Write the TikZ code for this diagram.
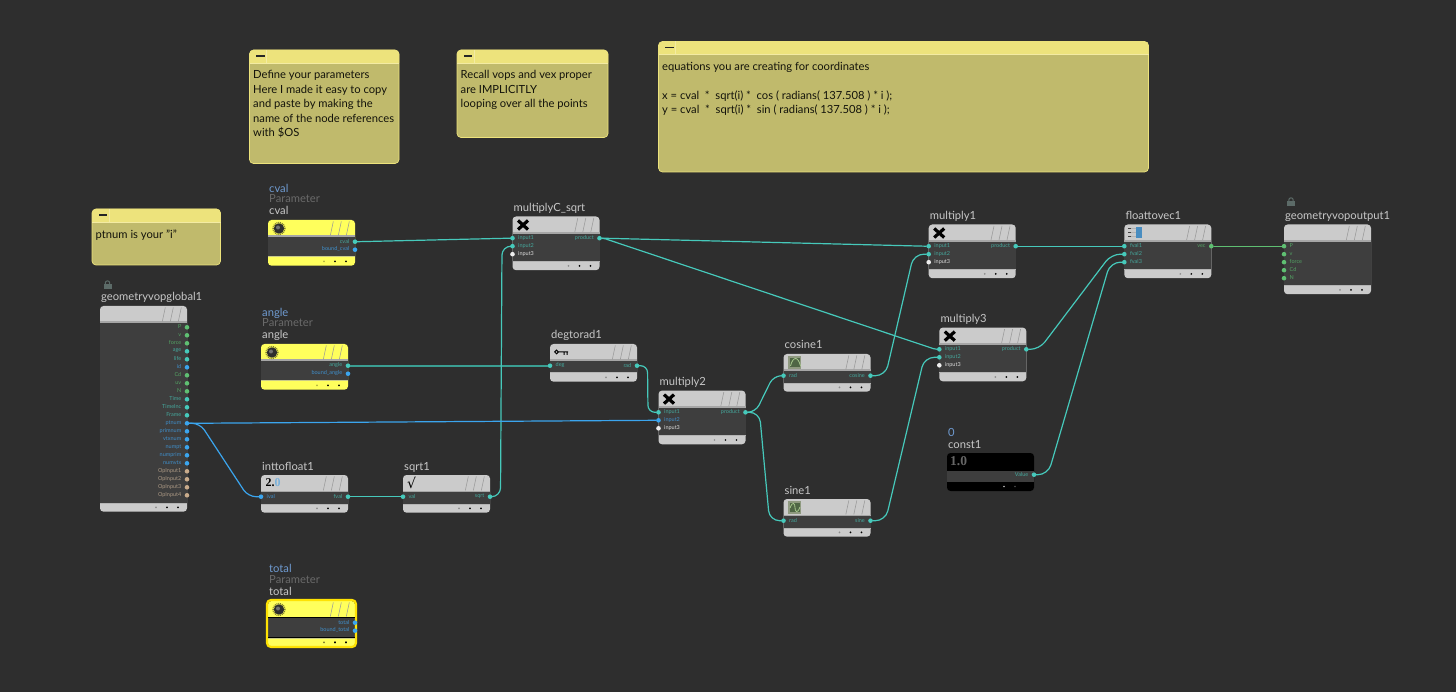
\documentclass[tikz,border=0pt]{standalone}
\usepackage{fontspec}
\setmainfont{Lato}
\newfontfamily\serfont{Liberation Serif}
\newfontfamily\symfont{DejaVu Sans}
\usetikzlibrary{calc}
\definecolor{bgc}{HTML}{2E2E2E}
\definecolor{bodyc}{HTML}{3E3E3E}
\definecolor{greyc}{HTML}{CBCBCB}
\definecolor{sepc}{HTML}{A6A6A6}
\definecolor{yelc}{HTML}{FFFF5C}
\definecolor{portt}{HTML}{46C9BB}
\definecolor{portb}{HTML}{3BA5EE}
\definecolor{portg}{HTML}{5FBF72}
\definecolor{portn}{HTML}{C9AB8B}
\definecolor{portw}{HTML}{EEEEEE}
\definecolor{labt}{HTML}{45A79C}
\definecolor{labb}{HTML}{3F8FCB}
\definecolor{labg}{HTML}{53A263}
\definecolor{labn}{HTML}{AD9A85}
\definecolor{labw}{HTML}{DDDDDD}
\definecolor{noteb}{HTML}{C0BA6C}
\definecolor{noteh}{HTML}{EDE37C}
\definecolor{titlec}{HTML}{C8C8C8}
\definecolor{paramc}{HTML}{6A6A6A}
\definecolor{valc}{HTML}{6F9BD1}
\definecolor{lockc}{HTML}{5C6B68}
\definecolor{anglewire}{HTML}{3A9E92}
\definecolor{iconb}{HTML}{8F9A80}
\definecolor{iconf}{HTML}{4F6645}
\definecolor{iconl}{HTML}{A8C88E}
\tikzset{
  x=1pt,y=-1pt,
  shell/.style={rounded corners=3.5pt,minimum width=87pt,inner sep=0pt,outer sep=0pt,anchor=north west},
  dot/.style={circle,inner sep=0pt,outer sep=0pt,minimum size=4.6pt},
  titlelab/.style={anchor=base west,inner sep=0pt,text=titlec,font=\fontsize{11.2}{13}\selectfont},
  portlab/.style={inner sep=0pt,font=\fontsize{5.5}{6}\selectfont},
  wire/.style={line width=1.2pt,portt,line cap=round},
  notebox/.style={rounded corners=4pt,fill=noteb,draw=noteh,line width=.7pt,inner sep=0pt,outer sep=0pt,anchor=north west},
  notetext/.style={anchor=north west,inner sep=0pt,align=left,text=black!90!noteb,font=\fontsize{11.2}{14.5}\selectfont},
}
% id, x, top, rows, head colour, title
\newcommand\vop[6]{%
  \pgfmathsetmacro\vh{21.7+8*(#4-1)+16}%
  \node[shell,fill=#5,minimum height=\vh pt] (#1) at (#2,#3) {};
  \fill[bodyc] (#2,{#3+16.5}) rectangle ({#2+87},{#3+\vh-8.7});
  \fill[sepc] (#2,{#3+15.5}) rectangle ({#2+87},{#3+17.2});
  \fill[sepc!60!#5] (#2,{#3+\vh-9.2}) rectangle ({#2+87},{#3+\vh-8.4});
  \foreach \s in {0,8,16}
    \draw[black!40,line width=.55pt] ({#2+62.3+\s},{#3+15.5}) -- ({#2+65.3+\s},{#3+1.5});
  \foreach \s/\k in {56/.3,67/1,78/1}
    \fill[black,opacity=\k] ({#2+\s},{#3+\vh-4.3}) circle (.95pt);
  \node[titlelab] (#1-t) at ({#2+1},{#3-5}) {#6};
}
% box id, x, top, row, label, colour letter
\newcommand\lport[6]{%
  \node[dot,fill=port#6] (#1-l#4) at (#2,{#3+21.7+8*#4}) {};
  \node[portlab,anchor=west,text=lab#6] at ({#2+5.5},{#3+21.3+8*#4}) {#5};
}
\newcommand\rport[6]{%
  \node[dot,fill=port#6] (#1-r#4) at ({#2+87},{#3+21.7+8*#4}) {};
  \node[portlab,anchor=east,text=lab#6] at ({#2+81.5},{#3+21.3+8*#4}) {#5};
}
\newcommand\cross[2]{%
  \draw[black,line width=3.2pt] ({#1+5.5},{#2+4}) -- ({#1+15.5},{#2+13});
  \draw[black,line width=3.2pt] ({#1+15.5},{#2+4}) -- ({#1+5.5},{#2+13});
}
\newcommand\knob[2]{%
  \draw[black!50!yelc,line width=1.4pt,dash pattern=on .9pt off .9pt] ({#1+11},{#2+8.5}) circle (5.9pt);
  \fill[black!82] ({#1+11},{#2+8.5}) circle (5.2pt);
  \fill[black!55] ({#1+10},{#2+7.5}) circle (2pt);
}
\newcommand\lockicon[2]{%
  \fill[lockc] ({#1},{#2+3.5}) rectangle ({#1+8},{#2+8.5});
  \draw[lockc,line width=1pt] ({#1+1.8},{#2+3.5}) -- ({#1+1.8},{#2+2}) arc[start angle=180,end angle=0,radius=2.2pt] -- ({#1+6.2},{#2+3.5});
}
% [style] from, to, dx, radius
\newcommand\wire[5][]{%
  \draw[wire,#1,rounded corners=#5pt] (#2) -- ($(#2)+(#4,0)$) -- ($(#3)-(#4,0)$) -- (#3);
}
% id x y x2 y2 text
\newcommand\stick[6]{%
  \node[notebox,minimum width={#4-#2},minimum height={#5-#3}] (#1) at (#2,#3) {};
  \fill[noteh] (#2,{#3+13}) [rounded corners=4pt] -- (#2,#3) -- (#4,#3) [sharp corners] -- (#4,{#3+13}) -- cycle;
  \fill[black!85] ({#2+6.5},{#3+5.2}) rectangle ({#2+15},{#3+6.9});
  \draw[noteh!70!white,line width=.7pt] ({#2+17},#3) -- ({#2+17},{#3+13});
  \draw[noteh!70!white,line width=.5pt] (#2,{#3+13}) -- (#4,{#3+13});
  \node[notetext] (#1-x) at ({#2+3.5},{#3+20.5}) {#6};
}
\begin{document}
\begin{tikzpicture}
\useasboundingbox (0,0) rectangle (1456,692);
\fill[bgc] (0,0) rectangle (1456,692);

% sticky notes
\stick{n1}{249.5}{50}{399}{163.5}{Define your parameters\\Here I made it easy to copy\\and paste by making the\\name of the node references\\with \$OS}
\stick{n2}{457}{50}{608}{137.5}{Recall vops and vex proper\\are IMPLICITLY\\looping over all the points}
\stick{n3}{658.5}{41.5}{1148.5}{172}{equations you are creating for coordinates\\[14.5pt]x = cval~~*~~sqrt(i) *~~cos ( radians( 137.508 ) * i );\\y = cval~~*~~sqrt(i) *~~sin ( radians( 137.508 ) * i );}
\stick{n4}{92}{209}{220.5}{265}{ptnum is your "i"}

% parameter nodes
\vop{cval}{268}{220}{2}{yelc}{cval}
\knob{268}{220}
\node[titlelab,text=valc] (cval-a) at (269,193) {cval};
\node[titlelab,text=paramc] (cval-b) at (269,203) {Parameter};
\rport{cval}{268}{220}{0}{cval}{t}
\rport{cval}{268}{220}{1}{bound\_cval}{b}

\vop{ang}{261}{344}{2}{yelc}{angle}
\knob{261}{344}
\node[titlelab,text=valc] (ang-a) at (262,317) {angle};
\node[titlelab,text=paramc] (ang-b) at (262,327) {Parameter};
\rport{ang}{261}{344}{0}{angle}{t}
\rport{ang}{261}{344}{1}{bound\_angle}{b}

\vop{tot}{268}{601}{2}{yelc}{}
\draw[draw=yellow!85!orange,line width=2.2pt,rounded corners=4pt] (267,600) rectangle (356,647);
\draw[black,line width=.7pt] (268,617.4) -- (355,617.4);
\draw[black,line width=.7pt] (268,637.6) -- (355,637.6);
\knob{268}{601}
\foreach \s/\k in {56/.3,67/1,78/1}
  \fill[black,opacity=\k] ({268+\s},642.4) circle (.95pt);
\node[titlelab,text=valc] (tot-a) at (269,572) {total};
\node[titlelab,text=paramc] (tot-b) at (269,583) {Parameter};
\node[titlelab] (tot-c) at (269,595) {total};
\rport{tot}{268}{601}{0}{total}{b}
\rport{tot}{268}{601}{1}{bound\_total}{b}

% global input
\lockicon{103.5}{281}
\vop{gl}{100}{306}{22}{greyc}{geometryvopglobal1}
\foreach \n/\c [count=\i from 0] in {P/g,v/g,force/g,age/t,life/t,id/b,Cd/g,uv/g,N/g,Time/t,TimeInc/t,Frame/t,ptnum/b,primnum/b,vtxnum/b,numpt/b,numprim/b,numvtx/b,OpInput1/n,OpInput2/n,OpInput3/n,OpInput4/n}
  {\rport{gl}{100}{305.6}{\i}{\n}{\c}}

% math nodes
\vop{itf}{261}{475}{1}{greyc}{inttofloat1}
\node[inner sep=0pt,anchor=west,text=black,font=\serfont\bfseries\fontsize{12}{13}\selectfont] (itf-i) at (265.5,483) {2.\textcolor{labb!70!white}{0}};
\lport{itf}{261}{475}{0}{ival}{b}
\rport{itf}{261}{475}{0}{fval}{t}

\vop{sq}{403}{475}{1}{greyc}{sqrt1}
\node[inner sep=0pt,anchor=west,font=\symfont\fontsize{14}{15}\selectfont] (sq-i) at (407,483) {√};
\lport{sq}{403}{475}{0}{val}{t}
\rport{sq}{403}{475}{0}{sqrt}{t}

\vop{mc}{512.5}{216.5}{3}{greyc}{multiplyC\_sqrt}
\cross{512.5}{216.5}
\lport{mc}{512.5}{216.5}{0}{input1}{t}
\lport{mc}{512.5}{216.5}{1}{input2}{t}
\lport{mc}{512.5}{216.5}{2}{input3}{w}
\rport{mc}{512.5}{216.5}{0}{product}{t}

\vop{dr}{550}{344}{1}{greyc}{degtorad1}
\draw[black,line width=1pt] (556.5,352) circle (1.8pt) (558.5,352) -- (568,352) (564,352) -- (564,355) (567,352) -- (567,355);
\lport{dr}{550}{344}{0}{deg}{t}
\rport{dr}{550}{344}{0}{rad}{t}

\vop{m2}{658.5}{390.6}{3}{greyc}{multiply2}
\cross{658.5}{390.6}
\lport{m2}{658.5}{390.6}{0}{input1}{t}
\lport{m2}{658.5}{390.6}{1}{input2}{b}
\lport{m2}{658.5}{390.6}{2}{input3}{w}
\rport{m2}{658.5}{390.6}{0}{product}{t}

\foreach \bx/\by/\bn/\bl/\bw in {783.5/354/cs/cosine1/cosine,783.5/499/sn/sine1/sine}{
  \vop{\bn}{\bx}{\by}{1}{greyc}{\bl}
  \fill[iconb] ({\bx+4.5},{\by+2.3}) rectangle ({\bx+17.5},{\by+14.7});
  \fill[iconf] ({\bx+6},{\by+3.8}) rectangle ({\bx+16},{\by+13.2});
  \lport{\bn}{\bx}{\by}{0}{rad}{t}
  \rport{\bn}{\bx}{\by}{0}{\bw}{t}
}
\draw[iconl,line width=.8pt] (790.5,366) .. controls (793,356) and (798,356) .. (800.5,366);
\draw[iconl,line width=.8pt] (790,508) .. controls (793,500) and (795,504) .. (795,507.5) .. controls (795,511) and (797,515) .. (800,507);

\vop{m1}{928.7}{224.5}{3}{greyc}{multiply1}
\cross{928.7}{224.5}
\lport{m1}{928.7}{224.5}{0}{input1}{t}
\lport{m1}{928.7}{224.5}{1}{input2}{t}
\lport{m1}{928.7}{224.5}{2}{input3}{w}
\rport{m1}{928.7}{224.5}{0}{product}{t}

\vop{m3}{939.3}{327.6}{3}{greyc}{multiply3}
\cross{939.3}{327.6}
\lport{m3}{939.3}{327.6}{0}{input1}{t}
\lport{m3}{939.3}{327.6}{1}{input2}{t}
\lport{m3}{939.3}{327.6}{2}{input3}{w}
\rport{m3}{939.3}{327.6}{0}{product}{t}

\vop{fv}{1124.3}{224.5}{3}{greyc}{floattovec1}
\fill[labb!85!gray] (1136,226.7) rectangle (1142,238);
\foreach \q in {228,232,236} \fill[black!75] (1128,\q) rectangle (1131,{\q+1.2});
\foreach \q in {228,232,236} \fill[black!30] (1131,\q) rectangle (1136,{\q+1.2});
\lport{fv}{1124.3}{224.5}{0}{fval1}{t}
\lport{fv}{1124.3}{224.5}{1}{fval2}{t}
\lport{fv}{1124.3}{224.5}{2}{fval3}{t}
\rport{fv}{1124.3}{224.5}{0}{vec}{g}

\lockicon{1287}{198}
\vop{ou}{1284}{224.5}{5}{greyc}{geometryvopoutput1}
\foreach \n [count=\i from 0] in {P,v,force,Cd,N}
  {\lport{ou}{1284}{224.5}{\i}{\n}{g}}

% constant
\node[shell,fill=black,minimum height=38pt] (cn) at (947,453) {};
\fill[bodyc] (947,470.5) rectangle (1034,481.8);
\node[inner sep=0pt,anchor=west,text=black!60,font=\serfont\bfseries\fontsize{13.5}{14}\selectfont] (cn-i) at (950,461) {1.0};
\fill[white!75!black] (1004,486.5) circle (.95pt);
\fill[black!70] (1015,486.5) circle (.8pt);
\node[titlelab,text=valc] (cn-a) at (948,436) {0};
\node[titlelab] (cn-t) at (948,448) {const1};
\rport{cn}{947}{453}{0}{Value}{t}

% connectors
\wire{cval-r0}{mc-l0}{3}{2}
\draw[draw=anglewire,line width=1.8pt] (ang-r0) -- (dr-l0);
\wire{sq-r0}{mc-l1}{10.5}{9}
\wire{itf-r0}{sq-l0}{3}{1}
\wire[portb]{gl-r12}{m2-l1}{3}{1}
\wire[portb]{gl-r12}{itf-l0}{13}{8}
\wire{mc-r0}{m1-l0}{3}{1}
\wire{mc-r0}{m3-l0}{4}{2}
\wire{dr-r0}{m2-l0}{10.5}{7}
\wire{m2-r0}{cs-l0}{10}{8}
\wire{m2-r0}{sn-l0}{14}{10}
\wire{cs-r0}{m1-l1}{15}{10}
\wire{sn-r0}{m3-l1}{15}{10}
\wire{m1-r0}{fv-l0}{3}{1}
\wire{m3-r0}{fv-l1}{13}{9}
\wire{cn-r0}{fv-l2}{14}{10}
\wire[portg]{fv-r0}{ou-l0}{3}{1}
\end{tikzpicture}
\end{document}
